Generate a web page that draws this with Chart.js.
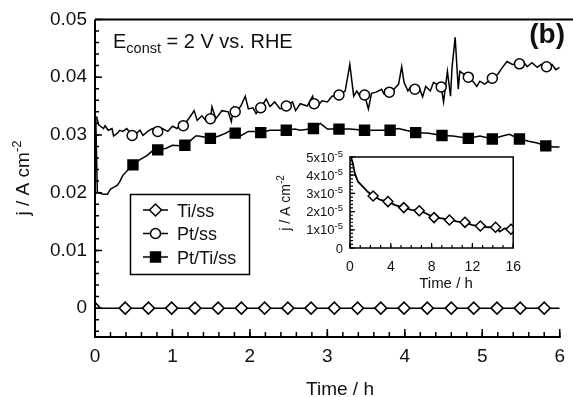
<!DOCTYPE html>
<html>
<head>
<meta charset="utf-8">
<script src="https://cdn.jsdelivr.net/npm/chart.js@4.4.1/dist/chart.umd.min.js"></script>
<style>
    html, body { margin: 0; padding: 0; background: #fff; }
    #wrap { position: relative; width: 573px; height: 397px; }
    #main { position: absolute; left: 0; top: 0; }
    #inset { position: absolute; left: 270px; top: 140px; }
</style>
</head>
<body>
<div id="wrap">
    <canvas id="main" width="573" height="397"></canvas>
    <canvas id="inset" width="262" height="155"></canvas>
</div>
<script>
// ---- main plot data (time in h, current density in A cm-2) ----
const tissTime = [0, 0.07, 6];
const tissJ = [0.001, 0, 0];
const tissMarkTime = [0.39, 0.69, 0.99, 1.29, 1.59, 1.89, 2.19, 2.49, 2.79, 3.09, 3.39, 3.69, 3.99, 4.29, 4.6, 4.89, 5.19, 5.49, 5.8];
const tissMarkJ = [0, 0, 0, 0, 0, 0, 0, 0, 0, 0, 0, 0, 0, 0, 0, 0, 0, 0, 0];

const ptssTime = [0.02, 0.045, 0.07, 0.11, 0.13, 0.17, 0.22, 0.24, 0.29, 0.32,
    0.36, 0.41, 0.48, 0.54, 0.58, 0.62, 0.68, 0.74, 0.81, 0.87,
    0.94, 1.0, 1.06, 1.11, 1.14, 1.21, 1.28, 1.32, 1.38, 1.43,
    1.49, 1.51, 1.56, 1.64, 1.72, 1.76, 1.79, 1.81, 1.88, 1.94,
    1.98, 2.04, 2.08, 2.14, 2.21, 2.26, 2.32, 2.39, 2.47, 2.55,
    2.59, 2.65, 2.74, 2.81, 2.83, 2.87, 2.93, 3.0, 3.06, 3.15,
    3.23, 3.29, 3.34, 3.38, 3.42, 3.48, 3.53, 3.57, 3.63, 3.7,
    3.73, 3.8, 3.86, 3.92, 3.96, 3.99, 4.04, 4.08, 4.13, 4.18,
    4.23, 4.27, 4.33, 4.37, 4.47, 4.5, 4.55, 4.59, 4.61, 4.65,
    4.69, 4.71, 4.82, 4.88, 4.93, 4.97, 5.03, 5.13, 5.2, 5.26,
    5.32, 5.39, 5.48, 5.54, 5.58, 5.64, 5.71, 5.76, 5.83, 5.9,
    5.95, 6.0];
const ptssJ = [0.0332, 0.0318, 0.0315, 0.0311, 0.0316, 0.0308, 0.0311, 0.0298, 0.0303, 0.0308,
    0.0306, 0.0311, 0.0299, 0.0303, 0.0308, 0.0299, 0.0306, 0.0311, 0.0306, 0.0311,
    0.0306, 0.0315, 0.0311, 0.032, 0.0316, 0.0328, 0.0342, 0.0325, 0.0333, 0.0325,
    0.0328, 0.0349, 0.0328, 0.0342, 0.034, 0.0323, 0.0347, 0.034, 0.0349, 0.0367,
    0.0345, 0.0347, 0.0337, 0.0347, 0.0362, 0.0349, 0.0357, 0.0345, 0.035, 0.0357,
    0.0342, 0.0354, 0.035, 0.0367, 0.0354, 0.0349, 0.0359, 0.0357, 0.0367, 0.0369,
    0.0376, 0.0422, 0.0367, 0.0376, 0.0367, 0.0369, 0.0345, 0.0372, 0.0374, 0.0379,
    0.0371, 0.0374, 0.0379, 0.0388, 0.0418, 0.0391, 0.0376, 0.0384, 0.0379, 0.0384,
    0.0366, 0.0384, 0.0376, 0.0391, 0.0383, 0.0357, 0.041, 0.0367, 0.0417, 0.0469,
    0.0379, 0.041, 0.04, 0.0393, 0.0384, 0.0393, 0.0388, 0.0398, 0.0405, 0.0417,
    0.0427, 0.0422, 0.0423, 0.0425, 0.0418, 0.0425, 0.0417, 0.0422, 0.0418, 0.0422,
    0.0413, 0.0417];
const ptssMarkTime = [0.48, 0.81, 1.14, 1.49, 1.81, 2.14, 2.47, 2.83, 3.15, 3.48, 3.8, 4.13, 4.47, 4.82, 5.13, 5.48, 5.83];
const ptssMarkJ = [0.0299, 0.0306, 0.0316, 0.0328, 0.034, 0.0347, 0.035, 0.0354, 0.0369, 0.0369, 0.0374, 0.0379, 0.0383, 0.04, 0.0398, 0.0423, 0.0418];

const pttiTime = [0.01, 0.03, 0.07, 0.11, 0.16, 0.2, 0.24, 0.29, 0.32, 0.36,
    0.43, 0.49, 0.58, 0.67, 0.74, 0.81, 0.92, 1.0, 1.09, 1.16,
    1.24, 1.3, 1.34, 1.42, 1.49, 1.6, 1.69, 1.75, 1.81, 1.89,
    1.98, 2.07, 2.14, 2.26, 2.36, 2.47, 2.58, 2.65, 2.82, 2.91,
    3.0, 3.15, 3.29, 3.48, 3.63, 3.81, 3.92, 4.01, 4.14, 4.31,
    4.48, 4.62, 4.82, 4.97, 5.13, 5.26, 5.35, 5.48, 5.6, 5.71,
    5.82, 5.92, 6.0];
const pttiJ = [0.033, 0.0201, 0.0199, 0.0197, 0.0197, 0.0206, 0.0209, 0.0213, 0.0219, 0.023,
    0.024, 0.0248, 0.0257, 0.0264, 0.0272, 0.0274, 0.0277, 0.0282, 0.0281, 0.0282,
    0.0291, 0.0298, 0.0298, 0.0296, 0.0294, 0.0298, 0.0303, 0.0308, 0.0303, 0.0299,
    0.0306, 0.0306, 0.0304, 0.0308, 0.0308, 0.0308, 0.031, 0.0308, 0.0311, 0.032,
    0.031, 0.031, 0.031, 0.0308, 0.0308, 0.0308, 0.0311, 0.0308, 0.0304, 0.0303,
    0.0299, 0.0298, 0.0294, 0.0298, 0.0293, 0.0298, 0.0301, 0.0293, 0.0289, 0.0286,
    0.0281, 0.0279, 0.0279];
const pttiMarkTime = [0.49, 0.81, 1.16, 1.49, 1.81, 2.14, 2.47, 2.82, 3.15, 3.48, 3.81, 4.14, 4.48, 4.82, 5.13, 5.48, 5.82];
const pttiMarkJ = [0.0248, 0.0274, 0.0282, 0.0294, 0.0303, 0.0304, 0.0308, 0.0311, 0.031, 0.0308, 0.0308, 0.0304, 0.0299, 0.0294, 0.0293, 0.0293, 0.0281];

const xTicks = [0, 1, 2, 3, 4, 5, 6];
const xTickLabels = ['0', '1', '2', '3', '4', '5', '6'];
const yTicks = [0, 0.01, 0.02, 0.03, 0.04, 0.05];
const yTickLabels = ['0', '0.01', '0.02', '0.03', '0.04', '0.05'];

// ---- inset data (Ti/ss over 16 h) ----
const insetTime = [0.1, 0.3, 0.47, 0.79, 1.26, 1.74, 2.27, 3.0, 3.72, 4.42, 5.27, 6.0, 6.79, 7.42, 8.24, 9.0, 9.75, 10.57, 11.27, 12.0, 12.78, 13.42, 14.27, 14.68, 15.15, 15.78, 16];
const insetJ = [5.0e-5, 4.6e-5, 4.1e-5, 3.64e-5, 3.37e-5, 3.09e-5, 2.86e-5, 2.64e-5, 2.55e-5, 2.36e-5, 2.22e-5, 2.09e-5, 2.05e-5, 1.91e-5, 1.67e-5, 1.63e-5, 1.54e-5, 1.45e-5, 1.41e-5, 1.26e-5, 1.21e-5, 1.14e-5, 1.14e-5, 0.9e-5, 1.08e-5, 1.03e-5, 1.0e-5];
const insetMarkTime = [2.27, 3.72, 5.27, 6.79, 8.24, 9.75, 11.27, 12.78, 14.27, 15.78];
const insetMarkJ = [2.86e-5, 2.55e-5, 2.22e-5, 2.05e-5, 1.67e-5, 1.54e-5, 1.41e-5, 1.21e-5, 1.14e-5, 1.03e-5];

const insetXTicks = [0, 4, 8, 12, 16];
const insetXTickLabels = ['0', '4', '8', '12', '16'];
const insetYTicks = [0, 1e-5, 2e-5, 3e-5, 4e-5, 5e-5];
const insetYMantissa = ['0', '1x10', '2x10', '3x10', '4x10', '5x10'];
const insetYExponent = ['', '-5', '-5', '-5', '-5', '-5'];

const FAMILY = '"Liberation Sans", Arial, Helvetica, sans-serif';
const INK = '#111';
const font = (px, weight) => `${weight || 'normal'} ${px}px ${FAMILY}`;
const toPoints = (xs, ys) => xs.map((x, i) => ({ x, y: ys[i] }));

function lineSet(xs, ys, width) {
    return {
        data: toPoints(xs, ys),
        showLine: true,
        borderColor: '#000',
        borderWidth: width,
        pointRadius: 0,
        tension: 0,
        order: 1,
    };
}

function markerSet(label, xs, ys, style, radius, fill) {
    return {
        label,
        data: toPoints(xs, ys),
        showLine: false,
        pointStyle: style,
        pointRadius: radius,
        pointBackgroundColor: fill,
        pointBorderColor: '#000',
        pointBorderWidth: 1.5,
        order: 0,
    };
}

function range(from, to, step) {
    const out = [];
    for (let v = from; v <= to + step / 1000; v += step) out.push(v);
    return out;
}

// inward tick marks along the left or bottom edge of the plot area
function strokeTicks(ctx, scale, values, len, axis) {
    const a = scale.chart.chartArea;
    ctx.beginPath();
    values.forEach(v => {
        const p = scale.getPixelForValue(v);
        if (axis === 'x') {
            ctx.moveTo(p, a.bottom);
            ctx.lineTo(p, a.bottom - len);
        } else {
            ctx.moveTo(a.left, p);
            ctx.lineTo(a.left + len, p);
        }
    });
    ctx.stroke();
}

// text made of runs: [text, size, dy, weight]
function drawRuns(ctx, runs, x, y, align) {
    const widths = runs.map(([text, size, , weight]) => {
        ctx.font = font(size, weight);
        return ctx.measureText(text).width;
    });
    const total = widths.reduce((a, b) => a + b, 0);
    let cx = align === 'right' ? x - total : align === 'center' ? x - total / 2 : x;
    ctx.textAlign = 'left';
    ctx.textBaseline = 'alphabetic';
    runs.forEach(([text, size, dy, weight], i) => {
        ctx.font = font(size, weight);
        ctx.fillText(text, cx, y + (dy || 0));
        cx += widths[i];
    });
}

function drawMarker(ctx, ds, x, y) {
    ctx.fillStyle = ds.pointBackgroundColor;
    ctx.strokeStyle = '#000';
    ctx.lineWidth = ds.pointBorderWidth;
    Chart.helpers.drawPoint(ctx, {
        pointStyle: ds.pointStyle,
        radius: ds.pointRadius,
        rotation: 0,
        borderWidth: ds.pointBorderWidth,
    }, x, y);
}

const mainFrame = {
    id: 'mainFrame',
    afterDatasetsDraw(chart) {
        const { ctx, chartArea: a, scales } = chart;
        ctx.save();
        ctx.strokeStyle = '#000';
        ctx.lineWidth = 2;
        ctx.beginPath();
        ctx.moveTo(a.left, a.top);
        ctx.lineTo(chart.width, a.top);
        ctx.moveTo(a.left, a.top);
        ctx.lineTo(a.left, a.bottom);
        ctx.lineTo(a.right + 1, a.bottom);
        ctx.stroke();

        ctx.lineWidth = 1.5;
        strokeTicks(ctx, scales.x, range(0, 6, 0.2), 5, 'x');
        strokeTicks(ctx, scales.x, xTicks, 8, 'x');
        strokeTicks(ctx, scales.y, range(-0.004, 0.048, 0.002), 4, 'y');
        strokeTicks(ctx, scales.y, yTicks, 7, 'y');

        // legend box
        ctx.lineWidth = 1.5;
        ctx.strokeRect(130.5, 194.5, 119, 80);
        chart.data.datasets.filter(d => d.label).forEach((d, i) => {
            const y = 210 + i * 23.5;
            ctx.strokeStyle = '#000';
            ctx.lineWidth = 1.5;
            ctx.beginPath();
            ctx.moveTo(143, y);
            ctx.lineTo(168, y);
            ctx.stroke();
            drawMarker(ctx, d, 155.5, y);
            ctx.fillStyle = INK;
            drawRuns(ctx, [[d.label, 18]], 177, y + 6.5, 'left');
        });

        // annotations and axis titles
        ctx.fillStyle = INK;
        drawRuns(ctx, [['E', 20], ['const', 14.5, 5], [' = 2 V vs. RHE', 20]], 113, 48, 'left');
        drawRuns(ctx, [['(b)', 28, 0, 'bold']], 565, 43, 'right');
        drawRuns(ctx, [['Time / h', 19]], 340, 394.5, 'center');
        ctx.translate(29, 178);
        ctx.rotate(-Math.PI / 2);
        drawRuns(ctx, [['j / A cm', 19], ['-2', 13, -8]], 0, 0, 'center');
        ctx.restore();
    },
};

const insetFrame = {
    id: 'insetFrame',
    beforeDatasetsDraw(chart) {
        const { ctx, chartArea: a } = chart;
        ctx.save();
        ctx.fillStyle = '#fff';
        ctx.fillRect(a.left, a.top, a.right - a.left, a.bottom - a.top);
        ctx.restore();
    },
    afterDatasetsDraw(chart) {
        const { ctx, chartArea: a, scales } = chart;
        ctx.save();
        ctx.strokeStyle = '#000';
        ctx.lineWidth = 1.5;
        ctx.strokeRect(a.left, a.top, a.right - a.left, a.bottom - a.top);
        ctx.lineWidth = 1.2;
        strokeTicks(ctx, scales.x, range(0, 16, 1), 3, 'x');
        strokeTicks(ctx, scales.x, insetXTicks, 5, 'x');
        strokeTicks(ctx, scales.y, range(0, 5e-5, 2e-6), 3, 'y');
        strokeTicks(ctx, scales.y, insetYTicks, 5, 'y');

        ctx.fillStyle = INK;
        insetYTicks.forEach((v, i) => {
            const y = scales.y.getPixelForValue(v) + 4.5;
            drawRuns(ctx, [[insetYMantissa[i], 13], [insetYExponent[i], 9.5, -5]], a.left - 7, y, 'right');
        });
        drawRuns(ctx, [['Time / h', 15]], 176, 148, 'center');
        ctx.translate(20, 63);
        ctx.rotate(-Math.PI / 2);
        drawRuns(ctx, [['j / A cm', 14], ['-2', 10, -6]], 0, 0, 'center');
        ctx.restore();
    },
};

new Chart(document.getElementById('main'), {
    type: 'scatter',
    data: {
        datasets: [
            markerSet('Ti/ss', tissMarkTime, tissMarkJ, 'rectRot', 6, '#fff'),
            markerSet('Pt/ss', ptssMarkTime, ptssMarkJ, 'circle', 5, '#fff'),
            markerSet('Pt/Ti/ss', pttiMarkTime, pttiMarkJ, 'rect', 7, '#000'),
            lineSet(tissTime, tissJ, 1.5),
            lineSet(ptssTime, ptssJ, 1.5),
            lineSet(pttiTime, pttiJ, 1.5),
        ],
    },
    options: {
        responsive: false,
        animation: false,
        devicePixelRatio: 1,
        layout: { padding: { left: 0, top: 13, right: 7, bottom: 0 } },
        plugins: { legend: { display: false }, tooltip: { enabled: false } },
        scales: {
            x: {
                type: 'linear',
                min: 0,
                max: 6,
                afterFit: s => { s.height = 60; },
                afterBuildTicks: s => { s.ticks = xTicks.map(value => ({ value })); },
                grid: { display: false, drawTicks: false },
                border: { display: false },
                ticks: {
                    font: { family: FAMILY, size: 19 },
                    color: INK,
                    padding: 8,
                    maxRotation: 0,
                    autoSkip: false,
                    callback: (v, i) => xTickLabels[i],
                },
            },
            y: {
                type: 'linear',
                min: -0.005,
                max: 0.05,
                afterFit: s => { s.width = 95; },
                afterBuildTicks: s => { s.ticks = yTicks.map(value => ({ value })); },
                grid: { display: false, drawTicks: false },
                border: { display: false },
                ticks: {
                    font: { family: FAMILY, size: 19 },
                    color: INK,
                    padding: 8,
                    autoSkip: false,
                    callback: (v, i) => yTickLabels[i],
                },
            },
        },
    },
    plugins: [mainFrame],
});

new Chart(document.getElementById('inset'), {
    type: 'scatter',
    data: {
        datasets: [
            markerSet('Ti/ss', insetMarkTime, insetMarkJ, 'rectRot', 5, '#fff'),
            lineSet(insetTime, insetJ, 1.8),
        ],
    },
    options: {
        responsive: false,
        animation: false,
        devicePixelRatio: 1,
        layout: { padding: { left: 0, top: 17, right: 13, bottom: 0 } },
        plugins: { legend: { display: false }, tooltip: { enabled: false } },
        scales: {
            x: {
                type: 'linear',
                min: 0,
                max: 16,
                afterFit: s => { s.height = 47; },
                afterBuildTicks: s => { s.ticks = insetXTicks.map(value => ({ value })); },
                grid: { display: false, drawTicks: false },
                border: { display: false },
                ticks: {
                    font: { family: FAMILY, size: 14 },
                    color: INK,
                    padding: 11,
                    maxRotation: 0,
                    autoSkip: false,
                    callback: (v, i) => insetXTickLabels[i],
                },
            },
            y: {
                type: 'linear',
                min: 0,
                max: 5e-5,
                afterFit: s => { s.width = 80; },
                grid: { display: false },
                border: { display: false },
                ticks: { display: false },
            },
        },
    },
    plugins: [insetFrame],
});
</script>
</body>
</html>
